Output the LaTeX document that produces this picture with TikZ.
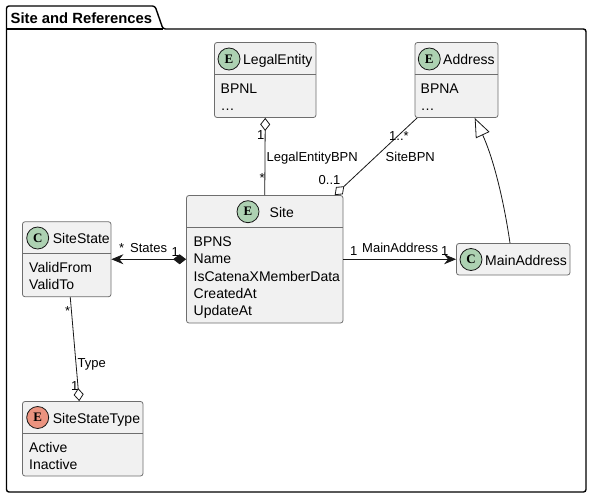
\documentclass[tikz,border=0pt]{standalone}
\usepackage{fontspec}
\setmainfont{Liberation Sans}
\newfontfamily\letterfont{Liberation Serif}
\usetikzlibrary{arrows.meta}
\definecolor{boxfill}{HTML}{F1F1F1}
\definecolor{boxline}{HTML}{6E6E6E}
\definecolor{linkline}{HTML}{181818}
\definecolor{entitygreen}{HTML}{ADD1B2}
\definecolor{enumred}{HTML}{EB937F}

\begin{document}
\begin{tikzpicture}[
    x=1pt, y=-1pt,
    % Style for the class boxes
    box/.style={
        draw=boxline,
        fill=boxfill,
        line width=0.8pt,
        rounded corners=2.5pt,
        inner sep=0pt
    },
    % Style for the round letter badges
    badge/.style={
        circle,
        draw=linkline,
        line width=0.8pt,
        minimum size=22pt,
        inner sep=0pt,
        font=\letterfont\bfseries\fontsize{13}{13}\selectfont
    },
    % Styles for the texts
    headtext/.style={anchor=base west, inner sep=0pt, font=\fontsize{14}{17}\selectfont},
    attr/.style={anchor=base west, inner sep=0pt, align=left, font=\fontsize{14}{17.4}\selectfont},
    linktext/.style={anchor=base west, inner sep=0pt, font=\fontsize{13}{15}\selectfont},
    % Style for the connectors
    link/.style={draw=linkline, line width=0.8pt},
    holdiamond/.tip={Diamond[length=13pt, width=10pt, fill=white]},
    fulldiamond/.tip={Diamond[length=13pt, width=10pt, fill=linkline]},
    linkhead/.tip={Stealth[length=12pt, width=10pt, inset=4pt, fill=linkline]}
]
\useasboundingbox (0,0) rectangle (592,498);

% --- Package frame ---
\draw[line width=1.4pt, rounded corners=2.5pt, fill=white]
    (6.5,29) -- (6.5,6) -- (155,6) -- (163,29) -- (586,29) -- (586,492) -- (6.5,492) -- cycle;
\draw[line width=1.4pt] (6.5,29) -- (163,29);
\node[anchor=base west, inner sep=0pt, font=\bfseries\fontsize{14.8}{17}\selectfont] (title) at (10.5,23) {Site and References};

% --- Boxes ---
\node[box, minimum width=101.5pt, minimum height=75pt] (legalentity) at (265.25,80) {};
\node[box, minimum width=83pt, minimum height=75pt] (address) at (456.5,80) {};
\node[box, minimum width=156.5pt, minimum height=127.5pt] (site) at (264.75,259.25) {};
\node[box, minimum width=88.5pt, minimum height=75pt] (sitestate) at (66.75,259.25) {};
\node[box, minimum width=113.5pt, minimum height=31.5pt] (mainaddress) at (513.25,259.25) {};
\node[box, minimum width=120.5pt, minimum height=74.5pt] (sitestatetype) at (82.75,438.75) {};

% --- Header lines ---
\draw[draw=boxline, line width=0.8pt] (legalentity.west |- 0,74.5) -- (legalentity.east |- 0,74.5);
\draw[draw=boxline, line width=0.8pt] (address.west |- 0,74.5) -- (address.east |- 0,74.5);
\draw[draw=boxline, line width=0.8pt] (site.west |- 0,227.5) -- (site.east |- 0,227.5);
\draw[draw=boxline, line width=0.8pt] (sitestate.west |- 0,253.5) -- (sitestate.east |- 0,253.5);
\draw[draw=boxline, line width=0.8pt] (sitestatetype.west |- 0,433.5) -- (sitestatetype.east |- 0,433.5);

% --- Badges ---
\node[badge, fill=entitygreen] (legalentitybadge) at (229,59) {E};
\node[badge, fill=entitygreen] (addressbadge) at (429.3,59) {E};
\node[badge, fill=entitygreen] (sitebadge) at (248,211.7) {E};
\node[badge, fill=entitygreen] (sitestatebadge) at (37.7,238) {C};
\node[badge, fill=entitygreen] (mainaddressbadge) at (471,259.5) {C};
\node[badge, fill=enumred] (sitestatetypebadge) at (37.7,417.5) {E};

% --- Box names ---
\node[headtext] (legalentityname) at (243,64.5) {LegalEntity};
\node[headtext] (addressname) at (443,64.5) {Address};
\node[headtext] (sitename) at (269.5,217) {Site};
\node[headtext] (sitestatename) at (52.7,243.5) {SiteState};
\node[headtext] (mainaddressname) at (485,265) {MainAddress};
\node[headtext] (sitestatetypename) at (52.7,423) {SiteStateType};

% --- Attributes ---
\node[attr] (legalentityattr) at (220.5,110.4) {BPNL\\…};
\node[attr] (addressattr) at (420.5,110.4) {BPNA\\…};
\node[attr] (siteattr) at (193.5,315.8) {BPNS\\Name\\IsCatenaXMemberData\\CreatedAt\\UpdateAt};
\node[attr] (sitestateattr) at (29,289.7) {ValidFrom\\ValidTo};
\node[attr] (sitestatetypeattr) at (29,469.6) {Active\\Inactive};

% --- Connectors ---
\draw[link, {holdiamond}-] (legalentity.south) -- (site.north);
\draw[link, {holdiamond}-] ([xshift=-8.7pt]site.north east) -- ([xshift=2.5pt]address.south west);
\draw[link, {fulldiamond}-{linkhead}] (site.west) -- (sitestate.east);
\draw[link, -{linkhead}] (site.east) -- (mainaddress.west);
\draw[link, {holdiamond}-] ([xshift=-3.5pt]sitestatetype.north) -- ([xshift=3.5pt]sitestate.south);
\draw[link, -{Triangle[length=19pt, width=15pt, fill=white]}]
    ([xshift=-3.25pt]mainaddress.north) .. controls (503,195) and (492,155) .. ([xshift=18.2pt]address.south);

% --- Connector labels ---
\node[linktext] (legalentityone) at (257,139) {1};
\node[linktext] (legalentitystar) at (259.5,182) {*};
\node[linktext] (legalentitybpn) at (266.5,161) {LegalEntityBPN};
\node[linktext] (sitezeroone) at (318.5,184) {0..1};
\node[linktext] (addressmany) at (389,140) {1..*};
\node[linktext] (sitebpn) at (385.5,161) {SiteBPN};
\node[linktext] (siteone) at (350,255.5) {1};
\node[linktext] (mainaddresslabel) at (362,252) {MainAddress};
\node[linktext] (mainaddressone) at (441,255.5) {1};
\node[linktext] (statesstar) at (119,252) {*};
\node[linktext] (stateslabel) at (130,252) {States};
\node[linktext] (statesone) at (171.5,256) {1};
\node[linktext] (typestar) at (65,315) {*};
\node[linktext] (typelabel) at (77.5,367) {Type};
\node[linktext] (typeone) at (71,390) {1};

\end{tikzpicture}
\end{document}
